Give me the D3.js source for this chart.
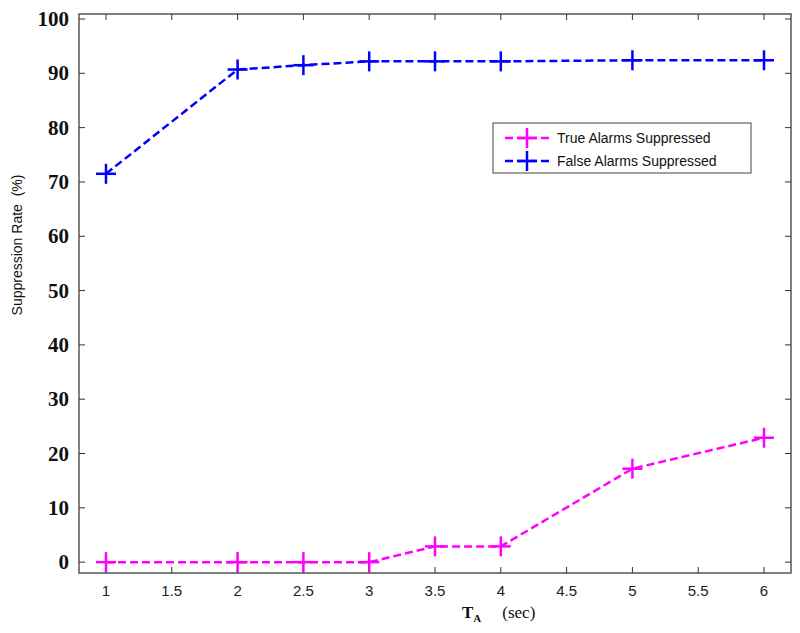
<!DOCTYPE html>
<html>
<head>
<meta charset="utf-8">
<script src="https://cdn.jsdelivr.net/npm/d3@7"></script>
<style>
  body { margin: 0; background: #fff; }
  svg { display: block; }
</style>
</head>
<body>
<svg width="800" height="633"></svg>
<script>
var xVals = [1, 2, 2.5, 3, 3.5, 4, 5, 6];
var trueSuppressed = [0, 0, 0, 0, 2.9, 2.9, 17.2, 22.9];
var falseSuppressed = [71.5, 90.7, 91.5, 92.2, 92.2, 92.2, 92.4, 92.4];
var xTicks = [1, 1.5, 2, 2.5, 3, 3.5, 4, 4.5, 5, 5.5, 6];
var yTicks = [0, 10, 20, 30, 40, 50, 60, 70, 80, 90, 100];
var seriesNames = ["True Alarms Suppressed", "False Alarms Suppressed"];
var seriesColors = ["#ff00ff", "#0000ff"];

var svg = d3.select("svg");
var plotL = 79, plotR = 791, plotT = 14, plotB = 573;

var x = d3.scaleLinear().domain([0.795, 6.205]).range([plotL, plotR]);
var y = d3.scaleLinear().domain([-2, 100.92]).range([plotB, plotT]);

// frame
svg.append("rect")
  .attr("x", plotL).attr("y", plotT)
  .attr("width", plotR - plotL).attr("height", plotB - plotT)
  .attr("fill", "none").attr("stroke", "#555").attr("stroke-width", 1.5);

// ticks (inside, on all four sides)
var tickLen = 6;
var tg = svg.append("g").attr("stroke", "#333").attr("stroke-width", 1);
xTicks.forEach(function(t) {
  tg.append("line").attr("x1", x(t)).attr("x2", x(t)).attr("y1", plotB).attr("y2", plotB - tickLen);
  tg.append("line").attr("x1", x(t)).attr("x2", x(t)).attr("y1", plotT).attr("y2", plotT + tickLen);
});
yTicks.forEach(function(t) {
  tg.append("line").attr("x1", plotL).attr("x2", plotL + tickLen).attr("y1", y(t)).attr("y2", y(t));
  tg.append("line").attr("x1", plotR).attr("x2", plotR - tickLen).attr("y1", y(t)).attr("y2", y(t));
});

// tick labels
svg.append("g").selectAll("text").data(xTicks).enter().append("text")
  .attr("x", function(d) { return x(d); })
  .attr("y", plotB + 23)
  .attr("text-anchor", "middle")
  .attr("font-family", "Liberation Sans, Arial, sans-serif")
  .attr("font-size", 15)
  .attr("fill", "#222")
  .text(function(d) { return d; });

svg.append("g").selectAll("text").data(yTicks).enter().append("text")
  .attr("x", plotL - 10)
  .attr("y", function(d) { return y(d) + 7; })
  .attr("text-anchor", "end")
  .attr("font-family", "Liberation Serif, Times New Roman, serif")
  .attr("font-weight", "bold")
  .attr("font-size", 21)
  .attr("fill", "#111")
  .text(function(d) { return d; });

// axis labels
svg.append("text")
  .attr("transform", "translate(22,245) rotate(-90)")
  .attr("text-anchor", "middle")
  .attr("font-family", "Liberation Sans, Arial, sans-serif")
  .attr("font-size", 14)
  .attr("fill", "#111")
  .attr("xml:space", "preserve")
  .text("Suppression Rate  (%)");

var xl = svg.append("text")
  .attr("x", 462).attr("y", 618)
  .attr("text-anchor", "start")
  .attr("font-family", "Liberation Serif, Times New Roman, serif")
  .attr("fill", "#111");
xl.append("tspan")
  .attr("font-weight", "bold").attr("font-size", 17).text("T");
xl.append("tspan")
  .attr("font-weight", "bold").attr("font-size", 11).attr("dy", 4).text("A");
xl.append("tspan")
  .attr("font-size", 17).attr("dy", -4).attr("dx", 21).text("(sec)");

// series
var line = d3.line()
  .x(function(d) { return x(d[0]); })
  .y(function(d) { return y(d[1]); });

var series = [trueSuppressed, falseSuppressed];
var plusSize = 10;

series.forEach(function(vals, i) {
  var pts = xVals.map(function(xv, j) { return [xv, vals[j]]; });
  svg.append("path")
    .datum(pts)
    .attr("d", line)
    .attr("fill", "none")
    .attr("stroke", seriesColors[i])
    .attr("stroke-width", 2.5)
    .attr("stroke-dasharray", "8,4");
  var g = svg.append("g").attr("stroke", seriesColors[i]).attr("stroke-width", 2.5);
  pts.forEach(function(p) {
    var cx = x(p[0]), cy = y(p[1]);
    g.append("line").attr("x1", cx - plusSize).attr("x2", cx + plusSize).attr("y1", cy).attr("y2", cy);
    g.append("line").attr("x1", cx).attr("x2", cx).attr("y1", cy - plusSize).attr("y2", cy + plusSize);
  });
});

// legend
var lg = svg.append("g");
lg.append("rect")
  .attr("x", 493).attr("y", 123).attr("width", 258).attr("height", 50)
  .attr("fill", "#fff").attr("stroke", "#444").attr("stroke-width", 1);
seriesNames.forEach(function(name, i) {
  var ly = 138 + i * 23;
  lg.append("line")
    .attr("x1", 505).attr("x2", 549).attr("y1", ly).attr("y2", ly)
    .attr("stroke", seriesColors[i]).attr("stroke-width", 2.5)
    .attr("stroke-dasharray", "8,4");
  lg.append("line")
    .attr("x1", 527 - plusSize).attr("x2", 527 + plusSize).attr("y1", ly).attr("y2", ly)
    .attr("stroke", seriesColors[i]).attr("stroke-width", 2.5);
  lg.append("line")
    .attr("x1", 527).attr("x2", 527).attr("y1", ly - plusSize).attr("y2", ly + plusSize)
    .attr("stroke", seriesColors[i]).attr("stroke-width", 2.5);
  lg.append("text")
    .attr("x", 557).attr("y", ly + 5)
    .attr("font-family", "Liberation Sans, Arial, sans-serif")
    .attr("font-size", 14)
    .attr("fill", "#111")
    .text(name);
});
</script>
</body>
</html>
